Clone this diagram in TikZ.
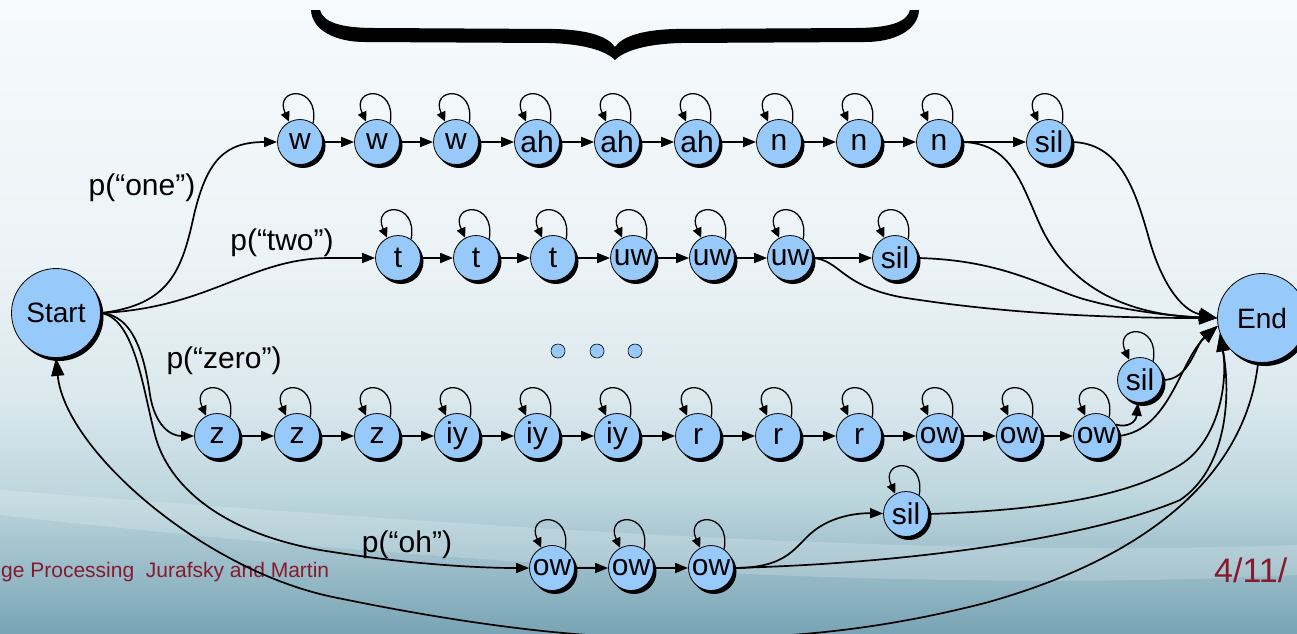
\documentclass[tikz,border=0pt]{standalone}
\usepackage{fontspec}
\setmainfont{Liberation Sans}
\usepackage{graphicx}
\usetikzlibrary{arrows.meta,shadows}
\definecolor{nodeblue}{RGB}{151,202,250}
\definecolor{footred}{RGB}{135,26,44}
\definecolor{bgA}{RGB}{246,250,252}
\definecolor{bgB}{RGB}{236,243,246}
\definecolor{bgC}{RGB}{218,232,237}
\definecolor{bgD}{RGB}{188,213,221}
\definecolor{bgE}{RGB}{120,164,181}
\tikzset{
  st/.style={circle, draw=black, line width=0.8pt, fill=nodeblue, minimum size=45pt,
    inner sep=0pt, font=\fontsize{30}{32}\selectfont,
    drop shadow={shadow xshift=3pt, shadow yshift=-3.5pt, fill=black, opacity=1}},
  bigst/.style={st, minimum size=89pt, font=\fontsize{28}{30}\selectfont},
  dotc/.style={circle, draw=black, line width=0.6pt, fill=nodeblue, minimum size=14pt, inner sep=0pt},
  lab/.style={font=\fontsize{30}{32}\selectfont, inner sep=0pt},
  arr/.style={line width=1.7pt, -{Triangle[length=13pt,width=10pt]}},
  endarr/.style={line width=1.7pt, -{Triangle[length=18pt,width=13pt]}},
  lp/.style={line width=1.3pt, -{Triangle[length=10pt,width=9pt]}},
}
\begin{document}
\begin{tikzpicture}[x=1pt,y=-1pt]
\useasboundingbox (0,0) rectangle (1297,633);
\begin{scope}
\clip (0,0) rectangle (1297,633);
% background
\shade[top color=bgA, bottom color=bgB] (0,0) rectangle (1297,261);
\shade[top color=bgB, bottom color=bgC] (0,260) rectangle (1297,401);
\shade[top color=bgC, bottom color=bgD] (0,400) rectangle (1297,501);
\shade[top color=bgD, bottom color=bgE] (0,500) rectangle (1297,634);
\fill[white, opacity=0.18] (0,490) .. controls (400,520) and (900,560) .. (1297,545)
   -- (1297,575) .. controls (900,595) and (400,560) .. (0,515) -- cycle;
% brace
\fill[black] (311,10) -- (320,10) .. controls (323,22) and (340,28) .. (375,28) -- (555,29)
  .. controls (590,30) and (608,37) .. (615,47) .. controls (622,37) and (640,30) .. (675,29)
  -- (855,28) .. controls (890,28) and (907,22) .. (910,10) -- (919,10)
  .. controls (918,30) and (895,42) .. (865,42) -- (680,43)
  .. controls (648,44) and (625,50) .. (615,60) .. controls (605,50) and (582,44) .. (550,43)
  -- (365,42) .. controls (335,42) and (312,30) .. cycle;
% footer
\node[anchor=base west, text=footred, font=\fontsize{21}{23}\selectfont, inner sep=0pt] (foot) at (1,577) {ge Processing\ \ Jurafsky and Martin};
\node[anchor=base west, text=footred, font=\fontsize{34}{36}\selectfont, inner sep=0pt] (date) at (1214,582) {4/11/};
% nodes
\node[bigst] (Start) at (56,313) {Start};
\node[bigst] (End) at (1262,318) {End};
\node[st] (w1) at (300,142) {w};
\node[st] (w2) at (377,142) {w};
\node[st] (w3) at (456,142) {w};
\node[st] (ah1) at (537,142) {ah};
\node[st] (ah2) at (617,142) {ah};
\node[st] (ah3) at (697,142) {ah};
\node[st] (n1) at (779,142) {n};
\node[st] (n2) at (859,142) {n};
\node[st] (n3) at (939,142) {n};
\node[st] (sil1) at (1049,142) {sil};
\node[st] (t1) at (398,258) {t};
\node[st] (t2) at (476,258) {t};
\node[st] (t3) at (553,258) {t};
\node[st] (uw1) at (633,258) {uw};
\node[st] (uw2) at (712,258) {uw};
\node[st] (uw3) at (790,258) {uw};
\node[st] (sil2) at (895,258) {sil};
\node[st] (z1) at (217,436) {z};
\node[st] (z2) at (297,436) {z};
\node[st] (z3) at (377,436) {z};
\node[st] (iy1) at (457,436) {iy};
\node[st] (iy2) at (537,436) {iy};
\node[st] (iy3) at (617,436) {iy};
\node[st] (r1) at (698,436) {r};
\node[st] (r2) at (778,436) {r};
\node[st] (r3) at (859,436) {r};
\node[st] (ow1) at (939,436) {ow};
\node[st] (ow2) at (1019,436) {ow};
\node[st] (ow3) at (1096,436) {ow};
\node[st] (sil3) at (1140,380) {sil};
\node[st] (o1) at (552,568) {ow};
\node[st] (o2) at (631,568) {ow};
\node[st] (o3) at (711,568) {ow};
\node[st] (sil4) at (906,514) {sil};
\node[dotc] (d1) at (558,351) {};
\node[dotc] (d2) at (597,351) {};
\node[dotc] (d3) at (635,351) {};
% labels
\node[lab] (lone) at (142,188) {p(“one”)};
\node[lab] (ltwo) at (282,243) {p(“two”)};
\node[lab] (lzero) at (224,361) {p(“zero”)};
\node[lab] (loh) at (407,545) {p(“oh”)};
% self loops
\foreach \nn in {w1,w2,w3,ah1,ah2,ah3,n1,n2,n3,sil1,t1,t2,t3,uw1,uw2,uw3,sil2,
  z1,z2,z3,iy1,iy2,iy3,r1,r2,r3,ow1,ow2,ow3,sil3,o1,o2,o3,sil4}
  \draw[lp] (\nn.55) .. controls +(80:40pt) and +(115:38pt) .. (\nn.118);
% chain arrows
\foreach \a/\b in {w1/w2,w2/w3,w3/ah1,ah1/ah2,ah2/ah3,ah3/n1,n1/n2,n2/n3,n3/sil1,
  t1/t2,t2/t3,t3/uw1,uw1/uw2,uw2/uw3,uw3/sil2,
  z1/z2,z2/z3,z3/iy1,iy1/iy2,iy2/iy3,iy3/r1,r1/r2,r2/r3,r3/ow1,ow1/ow2,ow2/ow3,
  o1/o2,o2/o3}
  \draw[arr] (\a) -- (\b);
% from Start
\draw[arr] (Start.east) .. controls (170,305) and (182,270) .. (194,215)
   .. controls (207,160) and (225,142) .. (w1);
\draw[arr] (Start.east) .. controls (210,308) and (250,258) .. (330,258) -- (t1);
\draw[arr] (Start.east) .. controls (135,315) and (145,360) .. (150,395)
   .. controls (155,425) and (170,436) .. (z1);
\draw[arr] (Start.east) .. controls (135,318) and (143,390) .. (155,435)
   .. controls (168,485) and (220,532) .. (320,550)
   .. controls (400,563) and (470,568) .. (o1);
% small branches
\draw[arr] (ow3.30) .. controls (1128,428) and (1136,422) .. (sil3.265);
\draw[arr] (o3.east) .. controls (790,568) and (795,545) .. (815,530)
   .. controls (835,515) and (860,513) .. (sil4);
% into End
\draw[endarr] (n3.east) .. controls (1010,143) and (1020,180) .. (1040,225)
   .. controls (1070,290) and (1130,315) .. (End.180);
\draw[endarr] (sil1.east) .. controls (1120,143) and (1135,190) .. (1148,235)
   .. controls (1160,280) and (1180,310) .. (End.180);
\draw[endarr] (uw3.east) .. controls (840,260) and (840,285) .. (900,297)
   .. controls (1000,313) and (1100,318) .. (End.180);
\draw[endarr] (sil2.east) .. controls (1000,260) and (1040,285) .. (1080,298)
   .. controls (1120,310) and (1170,316) .. (End.180);
\draw[endarr] (ow3.east) .. controls (1170,430) and (1180,360) .. (End.190);
\draw[endarr] (sil3.east) .. controls (1190,380) and (1195,345) .. (End.190);
\draw[endarr] (o3.east) .. controls (950,562) and (1110,530) .. (1180,500)
   .. controls (1225,470) and (1232,400) .. (End.200);
\draw[endarr] (sil4.east) .. controls (1050,510) and (1130,495) .. (1180,465)
   .. controls (1220,440) and (1228,380) .. (End.200);
% End back to Start
\draw[endarr] (End.265) .. controls (1245,480) and (1140,560) .. (985,603)
   .. controls (860,635) and (760,640) .. (650,638)
   .. controls (540,636) and (420,615) .. (333,597)
   .. controls (203,570) and (65,450) .. (Start.270);
\end{scope}
\end{tikzpicture}
\end{document}
